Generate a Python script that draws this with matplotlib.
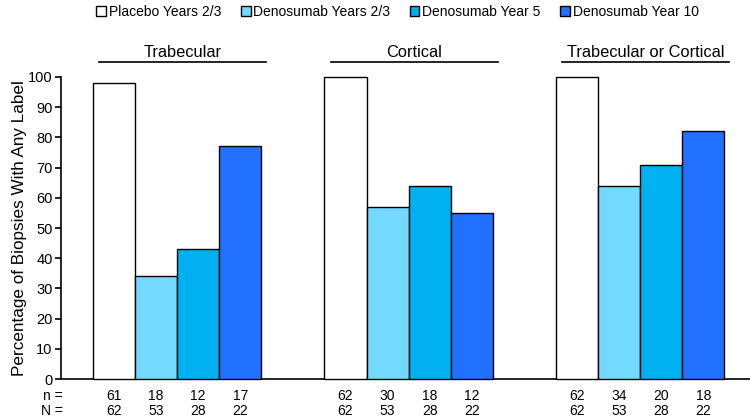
import matplotlib
matplotlib.use("Agg")
import matplotlib.pyplot as plt
from matplotlib.patches import Patch

plt.rcParams['font.family'] = ['Liberation Sans', 'DejaVu Sans']

groups = ["Trabecular", "Cortical", "Trabecular or Cortical"]
series = ["Placebo Years 2/3", "Denosumab Years 2/3",
          "Denosumab Year 5", "Denosumab Year 10"]
colors = ["#FFFFFF", "#73D9FF", "#00B0F0", "#2270FF"]

# percentage of biopsies with any label, per group
values = [
    [98, 34, 43, 77],
    [100, 57, 64, 55],
    [100, 64, 71, 82],
]
n_counts = [
    [61, 18, 12, 17],
    [62, 30, 18, 12],
    [62, 34, 20, 18],
]
N_counts = [
    [62, 53, 28, 22],
    [62, 53, 28, 22],
    [62, 53, 28, 22],
]
yticks = [0, 10, 20, 30, 40, 50, 60, 70, 80, 90, 100]


def main():
    fig = plt.figure(figsize=(7.5, 4.19), dpi=100)
    ax = fig.add_axes([61 / 750, 1 - 379 / 419, 689 / 750, 302 / 419])

    gap = 5.5
    n_y = -17 / 302
    N_y = -32 / 302
    for g, vals in enumerate(values):
        start = g * gap
        for i, v in enumerate(vals):
            x = start + i + 0.5
            ax.bar(x, v, width=1.0, color=colors[i], edgecolor="black",
                   linewidth=1.0, clip_on=False, zorder=3)
            ax.text(x, n_y, str(n_counts[g][i]),
                    transform=ax.get_xaxis_transform(),
                    ha="center", va="center", fontsize=10)
            ax.text(x, N_y, str(N_counts[g][i]),
                    transform=ax.get_xaxis_transform(),
                    ha="center", va="center", fontsize=10)
        # group title with underline
        ax.plot([start + 0.15, start + 4.12], [105, 105], color="black",
                linewidth=1.2, clip_on=False)
        ax.text(start + 2.13, 105.6, groups[g], ha="center", va="bottom",
                fontsize=11.8)

    ax.text(0.003, n_y, "n =", transform=ax.transAxes, ha="right",
            va="center", fontsize=10)
    ax.text(0.003, N_y, "N =", transform=ax.transAxes, ha="right",
            va="center", fontsize=10)

    ax.set_xlim(-0.76, 15.61)
    ax.set_ylim(0, 100)
    ax.set_yticks(yticks)
    ax.tick_params(axis="y", labelsize=10.5, length=4, width=1.2, pad=2)
    ax.set_xticks([])
    ax.spines["top"].set_visible(False)
    ax.spines["right"].set_visible(False)
    ax.spines["left"].set_linewidth(1.2)
    ax.spines["bottom"].set_linewidth(1.2)
    ax.set_ylabel("Percentage of Biopsies With Any Label", fontsize=12.3)
    ax.yaxis.set_label_coords(-0.049, 0.5)

    handles = [Patch(facecolor=c, edgecolor="black", linewidth=1.0)
               for c in colors]
    fig.legend(handles, series, loc="center", bbox_to_anchor=(0.53, 0.971),
               ncol=4, frameon=False, fontsize=10, handlelength=0.7,
               handleheight=0.7, handletextpad=0.2, columnspacing=1.4)

    fig.savefig("out.png", dpi=100)


if __name__ == "__main__":
    main()
